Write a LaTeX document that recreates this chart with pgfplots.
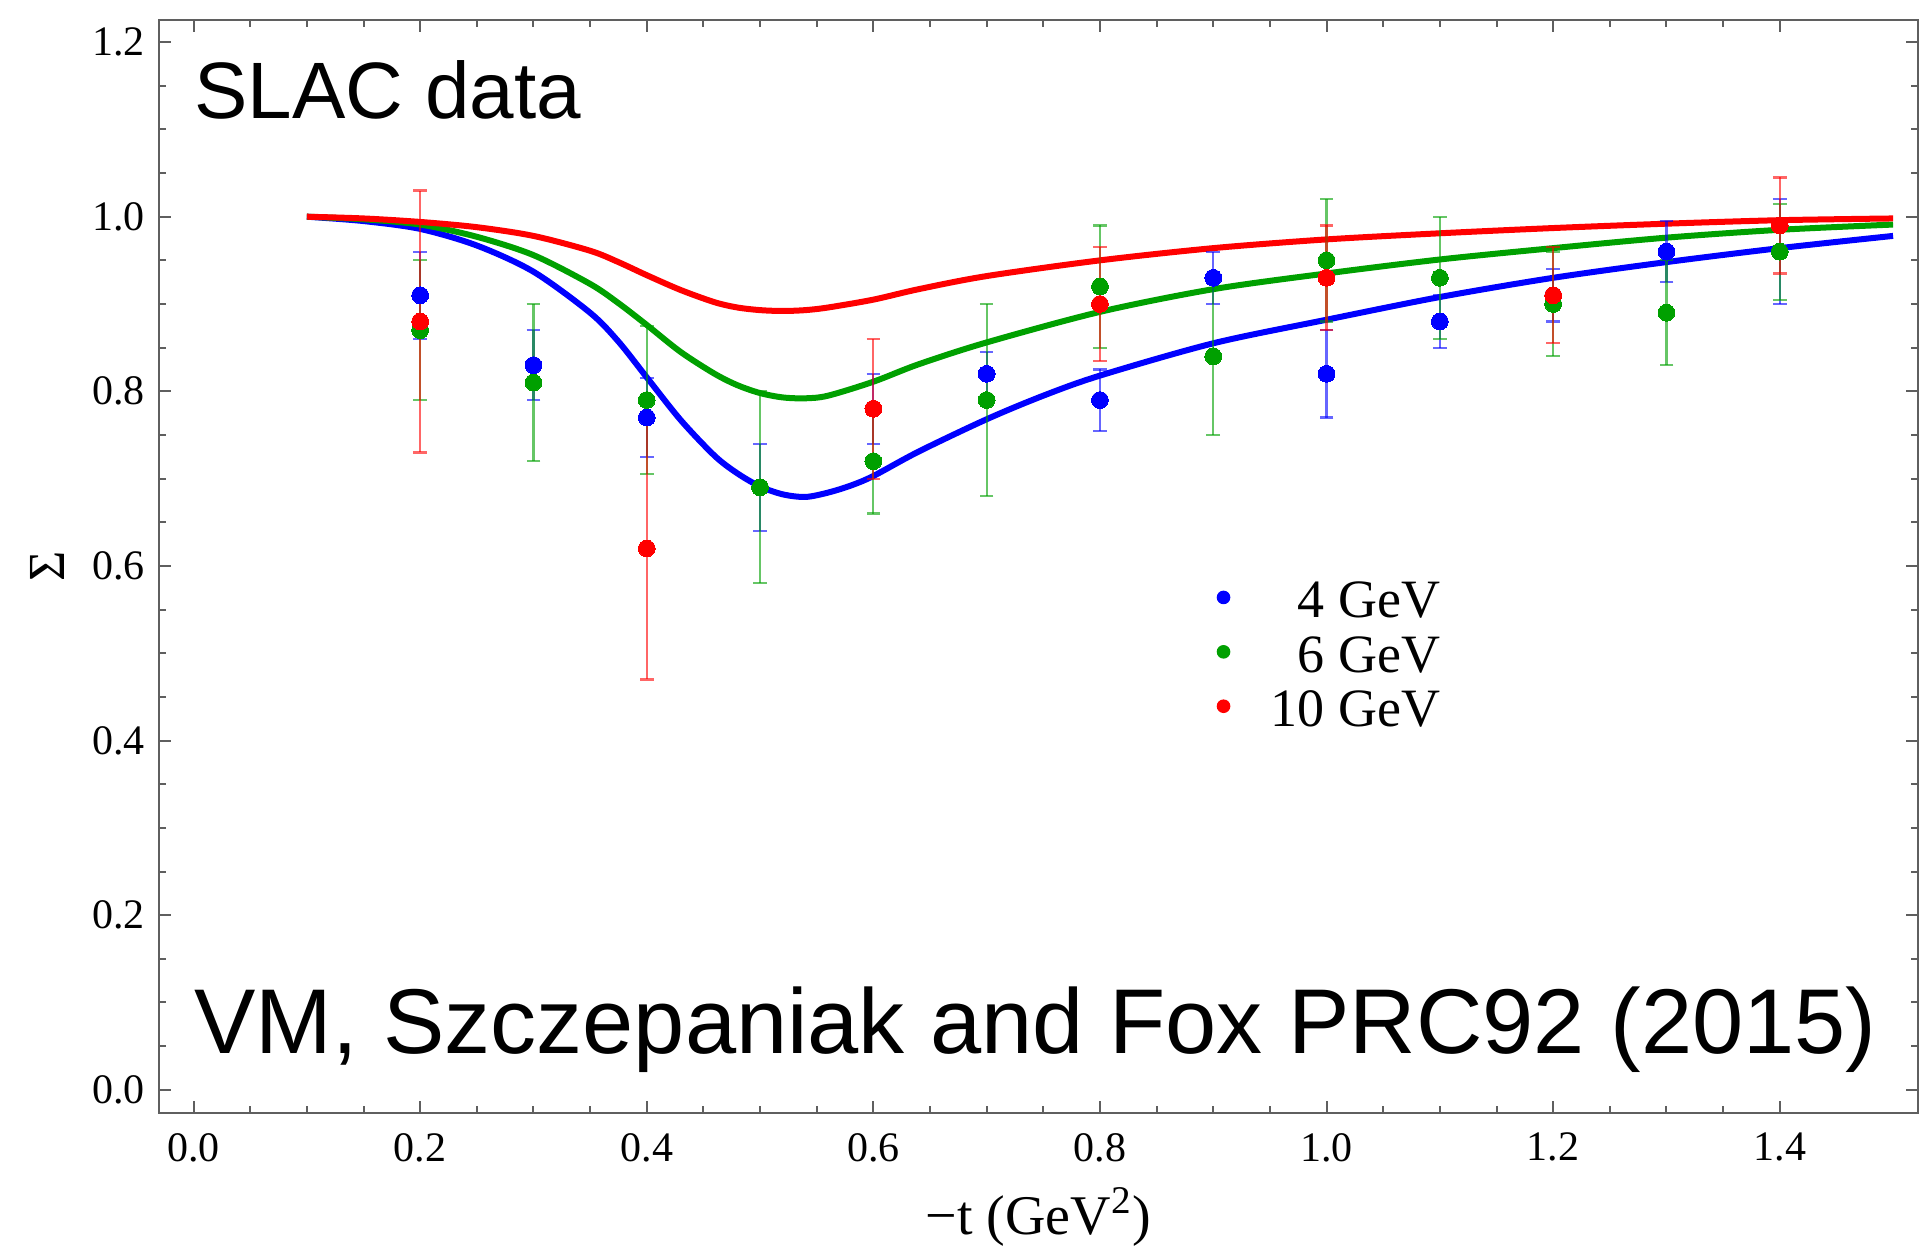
\documentclass[border=0pt]{standalone}
\usepackage{fontspec}
\setmainfont{Liberation Serif}
\newfontfamily\helv{Liberation Sans}
\usepackage{pgfplots}
\pgfplotsset{compat=1.18}
\definecolor{cblue}{RGB}{0,0,255}
\definecolor{cgreen}{RGB}{0,160,0}
\definecolor{cred}{RGB}{255,0,0}
\definecolor{framegray}{RGB}{95,95,95}

\pgfplotstableread{
x y e
0.2 0.91 0.05
0.3 0.83 0.04
0.4 0.77 0.045
0.5 0.69 0.05
0.6 0.78 0.04
0.7 0.82 0.025
0.8 0.79 0.035
0.9 0.93 0.03
1.0 0.82 0.05
1.1 0.88 0.03
1.2 0.91 0.03
1.3 0.96 0.035
1.4 0.96 0.06
}\dataA
\pgfplotstableread{
x y e
0.2 0.87 0.08
0.3 0.81 0.09
0.4 0.79 0.085
0.5 0.69 0.11
0.6 0.72 0.06
0.7 0.79 0.11
0.8 0.92 0.07
0.9 0.84 0.09
1.0 0.95 0.07
1.1 0.93 0.07
1.2 0.90 0.06
1.3 0.89 0.06
1.4 0.96 0.055
}\dataB
\pgfplotstableread{
x y e
0.2 0.88 0.15
0.4 0.62 0.15
0.6 0.78 0.08
0.8 0.90 0.065
1.0 0.93 0.06
1.2 0.91 0.055
1.4 0.99 0.055
}\dataC

\pgfplotstableread{
x y
0.10 1.000
0.15 0.995
0.20 0.986
0.25 0.967
0.30 0.937
0.35 0.890
0.375 0.857
0.40 0.816
0.43 0.767
0.46 0.726
0.48 0.706
0.50 0.691
0.52 0.682
0.54 0.679
0.56 0.684
0.58 0.692
0.60 0.703
0.64 0.731
0.70 0.768
0.75 0.795
0.80 0.818
0.90 0.855
1.00 0.882
1.10 0.908
1.20 0.930
1.30 0.948
1.40 0.964
1.50 0.978
}\curveA
\pgfplotstableread{
x y
0.10 1.000
0.15 0.997
0.20 0.991
0.25 0.977
0.30 0.956
0.35 0.923
0.375 0.901
0.40 0.876
0.43 0.845
0.46 0.820
0.48 0.807
0.50 0.798
0.52 0.793
0.54 0.792
0.56 0.795
0.60 0.811
0.64 0.831
0.70 0.856
0.80 0.891
0.90 0.917
1.00 0.935
1.10 0.951
1.20 0.964
1.30 0.976
1.40 0.985
1.50 0.991
}\curveB
\pgfplotstableread{
x y
0.10 1.000
0.15 0.998
0.20 0.994
0.25 0.988
0.30 0.978
0.35 0.961
0.375 0.948
0.40 0.933
0.43 0.916
0.46 0.902
0.48 0.896
0.50 0.893
0.52 0.892
0.54 0.893
0.56 0.896
0.60 0.905
0.64 0.917
0.70 0.932
0.80 0.950
0.90 0.964
1.00 0.974
1.10 0.981
1.20 0.987
1.30 0.992
1.40 0.996
1.50 0.998
}\curveC

\begin{document}
\begin{tikzpicture}
\useasboundingbox (0,0) rectangle (480pt,311.25pt);
\begin{axis}[
  at={(39.75pt,33pt)}, anchor=south west,
  scale only axis, width=439.75pt, height=273.25pt,
  xmin=-0.0305, xmax=1.522, ymin=-0.0266, ymax=1.2253,
  xtick={0,0.2,0.4,0.6,0.8,1.0,1.2,1.4},
  ytick={0,0.2,0.4,0.6,0.8,1.0,1.2},
  minor x tick num=3, minor y tick num=3,
  tick align=inside,
  major tick length=3pt, minor tick length=1.8pt,
  axis line style={framegray, line width=0.7pt},
  every tick/.style={framegray, line width=0.5pt},
  tick label style={font=\fontsize{10.5}{12}\selectfont,
    /pgf/number format/fixed, /pgf/number format/fixed zerofill,
    /pgf/number format/precision=1, /pgf/number format/assume math mode=true},
  xticklabel style={yshift=-1.5pt},
  every axis y label/.style={at={(rel axis cs:0,0.5)}, xshift=-28pt, rotate=90, anchor=center},
  ylabel={\fontsize{13}{15}\selectfont Σ},
  every axis x label/.style={at={(rel axis cs:0.5,0)}, yshift=-26pt, anchor=center},
  xlabel={\fontsize{14}{16}\selectfont −t (GeV\textsuperscript{2})},
  legend cell align=right,
  legend style={at={(axis cs:1.101,0.585)}, anchor=north east, draw=none, fill=none,
    inner sep=0pt, column sep=10.1pt, row sep=1.2pt,
    font=\fontsize{13.5}{15}\selectfont,
    nodes={inner sep=0pt, text height=9.5pt, text depth=2.9pt}},
]
\addplot[cblue, line width=1.5pt, smooth, tension=0.5, forget plot] table[x=x,y=y] {\curveA};
\addplot[cgreen, line width=1.5pt, smooth, tension=0.5, forget plot] table[x=x,y=y] {\curveB};
\addplot[cred, line width=1.5pt, smooth, tension=0.5, forget plot] table[x=x,y=y] {\curveC};

\addplot[cblue, only marks, mark=*, mark size=2.1pt, mark options={fill=cblue, draw=cblue, line width=0pt}, forget plot,
  error bars/.cd, y dir=both, y explicit,
  error bar style={line width=0.55pt, opacity=0.6},
  error mark options={rotate=90, mark size=1.7pt, line width=0.55pt, opacity=0.6}]
  table[x=x,y=y,y error=e] {\dataA};
\addplot[cgreen, only marks, mark=*, mark size=2.1pt, mark options={fill=cgreen, draw=cgreen, line width=0pt}, forget plot,
  error bars/.cd, y dir=both, y explicit,
  error bar style={line width=0.55pt, opacity=0.6},
  error mark options={rotate=90, mark size=1.7pt, line width=0.55pt, opacity=0.6}]
  table[x=x,y=y,y error=e] {\dataB};
\addplot[cred, only marks, mark=*, mark size=2.1pt, mark options={fill=cred, draw=cred, line width=0pt}, forget plot,
  error bars/.cd, y dir=both, y explicit,
  error bar style={line width=0.55pt, opacity=0.6},
  error mark options={rotate=90, mark size=1.7pt, line width=0.55pt, opacity=0.6}]
  table[x=x,y=y,y error=e] {\dataC};

\addlegendimage{legend image code/.code={\fill[cblue] (0pt,1.8pt) circle (1.5pt);}}
\addlegendentry{4 GeV}
\addlegendimage{legend image code/.code={\fill[cgreen] (0pt,1.8pt) circle (1.5pt);}}
\addlegendentry{6 GeV}
\addlegendimage{legend image code/.code={\fill[cred] (0pt,1.8pt) circle (1.5pt);}}
\addlegendentry{10 GeV}

\node[anchor=base west, inner sep=0pt, font=\helv\fontsize{20}{24}\selectfont] at (axis cs:0,1.112) {SLAC data};
\node[anchor=base west, inner sep=0pt, font=\helv\fontsize{23}{27}\selectfont] at (axis cs:0,0.042) {VM, Szczepaniak and Fox PRC92 (2015)};
\end{axis}
\end{tikzpicture}
\end{document}
